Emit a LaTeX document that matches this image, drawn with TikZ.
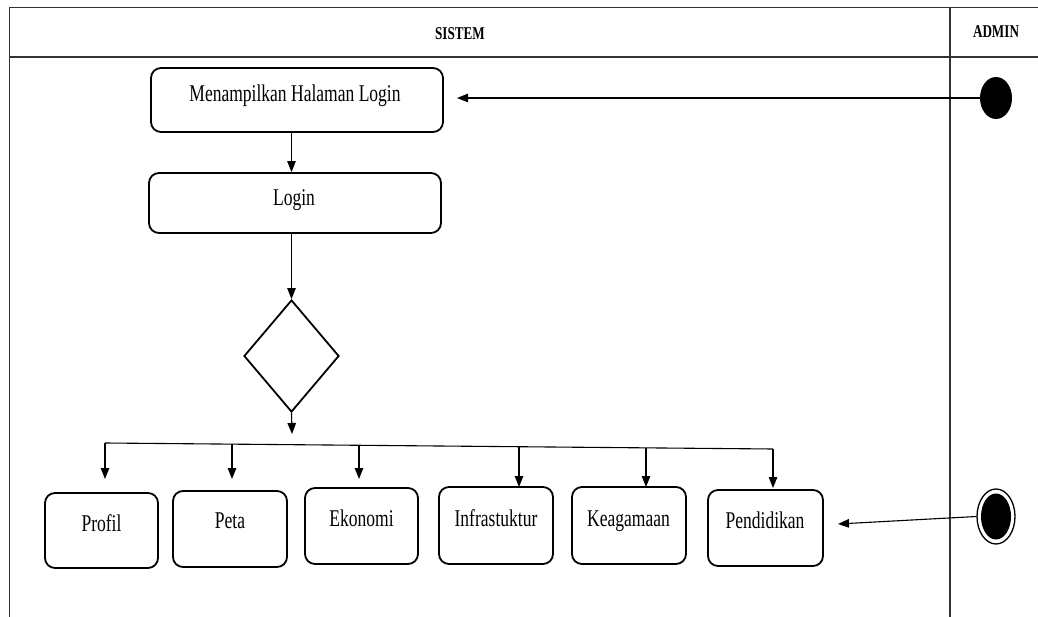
\documentclass[tikz,border=0pt]{standalone}
\usepackage{fontspec}
\setmainfont{Liberation Serif}[FakeStretch=0.73]
\usetikzlibrary{arrows.meta,shapes.geometric,calc}
\begin{document}
\begin{tikzpicture}[x=1pt,y=-1pt,
  frame/.style={line width=1.2pt,draw=black!80},
  actbox/.style={draw,line width=1.8pt,rounded corners=10pt,inner sep=0pt},
  lbl/.style={anchor=base,inner sep=0pt,font=\fontsize{24}{28}\selectfont},
  hdr/.style={anchor=base,inner sep=0pt,font=\fontsize{18}{21}\selectfont\bfseries},
  arr/.style={line width=1.1pt,-{Triangle[width=8.5pt,length=11pt]}},
  conn/.style={line width=1.1pt}
]
\useasboundingbox (0,0) rectangle (1038,617);
\fill[white] (0,0) rectangle (1038,617);
% frame
\draw[frame] (9.5,617) -- (9.5,7.5) -- (1038,7.5);
\draw[frame] (9.5,57) -- (1038,57);
\draw[frame] (950,7.5) -- (950,617);
\node[hdr] (sistem) at (460,40) {SISTEM};
\node[hdr] (admin) at (996,38) {ADMIN};
% activity boxes
\node[actbox,minimum width=292pt,minimum height=64pt] (menu) at (297,100) {};
\node[lbl] (tmenu) at (295,102) {Menampilkan Halaman Login};
\node[actbox,minimum width=292pt,minimum height=60pt] (login) at (295,203) {};
\node[lbl] (tlogin) at (294,206) {Login};
\node[draw,line width=1.8pt,diamond,minimum width=95pt,minimum height=112pt,inner sep=0pt,aspect=0.85] (dia) at (291.5,356) {};
\node[actbox,minimum width=113pt,minimum height=75pt] (profil) at (101.5,530.5) {};
\node[lbl] (tprofil) at (101.5,531) {Profil};
\node[actbox,minimum width=114pt,minimum height=76pt] (peta) at (230,529) {};
\node[lbl] (tpeta) at (230,528) {Peta};
\node[actbox,minimum width=113pt,minimum height=76pt] (eko) at (361.5,526) {};
\node[lbl] (teko) at (361.5,526) {Ekonomi};
\node[actbox,minimum width=114pt,minimum height=77pt] (infra) at (496,525.5) {};
\node[lbl] (tinfra) at (496,526) {Infrastuktur};
\node[actbox,minimum width=114pt,minimum height=77pt] (keag) at (629,525.5) {};
\node[lbl] (tkeag) at (628.5,526) {Keagamaan};
\node[actbox,minimum width=115pt,minimum height=76pt] (pend) at (765.5,528) {};
\node[lbl] (tpend) at (765,528) {Pendidikan};
% start and end
\node[ellipse,fill=black,minimum width=32pt,minimum height=42pt,inner sep=0pt] (start) at (996,98) {};
\node[ellipse,draw,line width=1.3pt,minimum width=38pt,minimum height=55pt,inner sep=0pt] (final) at (996,516.5) {};
\node[ellipse,fill=black,minimum width=30pt,minimum height=46pt,inner sep=0pt] (finalin) at (996,516.5) {};
% coordinates
\coordinate (startTip) at (457,98);
\coordinate (finTip) at (838,524);
\coordinate (djoin) at (292,434);
\coordinate (barL) at (105,443);
\coordinate (barR) at (773,449);
\coordinate (b1) at (105,443);
\coordinate (b2) at (232,444.1);
\coordinate (b3) at (359,445.3);
\coordinate (b4) at (519,446.7);
\coordinate (b5) at (646,447.9);
\coordinate (b6) at (773,449);
\coordinate (e1) at (105,479);
\coordinate (e2) at (232,479);
\coordinate (e3) at (359,479);
\coordinate (e4) at (519,487);
\coordinate (e5) at (646,487);
\coordinate (e6) at (773,488);
% connectors
\draw[arr] (start.west) -- (startTip);
\draw[arr] (menu.south -| dia.north) -- (login.north -| dia.north);
\draw[arr] (login.south -| dia.north) -- (dia.north);
\draw[arr] (dia.south) -- (djoin);
\draw[conn] (barL) -- (barR);
\draw[arr] (b1) -- (e1);
\draw[arr] (b2) -- (e2);
\draw[arr] (b3) -- (e3);
\draw[arr] (b4) -- (e4);
\draw[arr] (b5) -- (e5);
\draw[arr] (b6) -- (e6);
\draw[arr] (final.west) -- (finTip);
\end{tikzpicture}
\end{document}
